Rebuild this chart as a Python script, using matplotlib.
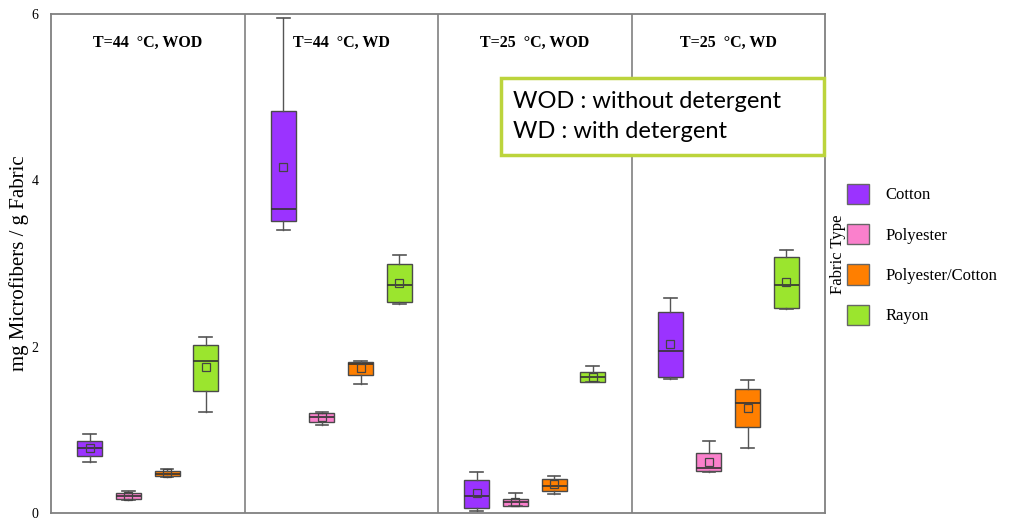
import matplotlib
matplotlib.use("Agg")
import matplotlib.pyplot as plt
from matplotlib.patches import Patch, Rectangle

# Panels (temperature / detergent condition) and fabric types
panels = ["T=44  °C, WOD", "T=44  °C, WD", "T=25  °C, WOD", "T=25  °C, WD"]
fabrics = ["Cotton", "Polyester", "Polyester/Cotton", "Rayon"]
colors = ["#9B33FF", "#FA80CC", "#FF7F00", "#9BE52E"]

# Box statistics per panel, in fabric order (mg microfibers / g fabric)
whisker_low = [
    [0.61, 0.16, 0.43, 1.22],
    [3.40, 1.06, 1.55, 2.51],
    [0.02, 0.08, 0.23, 1.57],
    [1.61, 0.49, 0.78, 2.45],
]
q1 = [
    [0.68, 0.17, 0.45, 1.47],
    [3.51, 1.09, 1.66, 2.54],
    [0.06, 0.08, 0.26, 1.58],
    [1.63, 0.51, 1.03, 2.46],
]
median = [
    [0.78, 0.21, 0.47, 1.83],
    [3.66, 1.15, 1.79, 2.74],
    [0.20, 0.13, 0.33, 1.63],
    [1.95, 0.54, 1.32, 2.74],
]
mean = [
    [0.78, 0.21, 0.48, 1.75],
    [4.16, 1.15, 1.74, 2.77],
    [0.24, 0.13, 0.35, 1.63],
    [2.03, 0.61, 1.26, 2.78],
]
q3 = [
    [0.86, 0.24, 0.50, 2.02],
    [4.83, 1.20, 1.82, 3.00],
    [0.40, 0.17, 0.41, 1.69],
    [2.42, 0.72, 1.49, 3.08],
]
whisker_high = [
    [0.95, 0.27, 0.53, 2.12],
    [5.95, 1.21, 1.83, 3.10],
    [0.49, 0.24, 0.44, 1.77],
    [2.59, 0.87, 1.60, 3.16],
]
y_ticks = [0, 2, 4, 6]

serif = ["Liberation Serif", "DejaVu Serif"]

fig = plt.figure(figsize=(10.10, 5.18), dpi=100)
ax = fig.add_axes([51 / 1010, 5 / 518, (825 - 51) / 1010, (513 - 14) / 518])

slot = 5  # x units per panel
frame_grey = "#808080"

for p in range(len(panels)):
    stats = []
    positions = []
    for f in range(len(fabrics)):
        stats.append(dict(
            whislo=whisker_low[p][f], q1=q1[p][f], med=median[p][f],
            mean=mean[p][f], q3=q3[p][f], whishi=whisker_high[p][f],
            fliers=[],
        ))
        positions.append(p * slot + f + 1)
    art = ax.bxp(
        stats, positions=positions, widths=0.65, capwidths=0.33,
        showmeans=True, patch_artist=True, manage_ticks=False,
        boxprops=dict(edgecolor="#4a4a4a", linewidth=1.0),
        medianprops=dict(color="#333333", linewidth=1.2),
        whiskerprops=dict(color="#555555", linewidth=1.0),
        capprops=dict(color="#555555", linewidth=1.2),
        meanprops=dict(marker="s", markerfacecolor="none",
                       markeredgecolor="#444444", markersize=6,
                       markeredgewidth=0.9),
    )
    for box, c in zip(art["boxes"], colors):
        box.set_facecolor(c)
    ax.text(p * slot + 2.5, 5.65, panels[p], ha="center", va="center",
            family=serif, fontweight="bold", fontsize=11.5)
    if p > 0:
        ax.axvline(p * slot, color=frame_grey, linewidth=1.2)

ax.set_xlim(0, slot * len(panels))
ax.set_ylim(0, 6)
ax.set_xticks([])
ax.set_yticks(y_ticks)
ax.set_yticklabels([str(t) for t in y_ticks], family=serif, fontsize=10)
ax.tick_params(axis="y", length=0, pad=9)
for s in ax.spines.values():
    s.set_color(frame_grey)
    s.set_linewidth(1.3)

ax.set_ylabel("mg Microfibers / g Fabric", family=serif, fontsize=15)
ax.yaxis.set_label_coords(-32 / 774, 0.5)
ax.yaxis.label.set_va("center")

# Legend for fabric types, with a vertical title
handles = [Patch(facecolor=c, edgecolor="#666666", linewidth=1.0) for c in colors]
fig.legend(handles, fabrics, loc="upper left",
           bbox_to_anchor=(835 / 1010, 1 - 172 / 518), frameon=False,
           prop=dict(family=serif, size=12), handlelength=1.35,
           handleheight=1.5, labelspacing=1.2, handletextpad=1.0,
           borderpad=0.2)
fig.text(838 / 1010, 1 - 254 / 518, "Fabric Type", rotation=90,
         ha="center", va="center", family=serif, fontsize=12)

# Abbreviation note box
fig.patches.append(Rectangle((501 / 1010, 1 - 155 / 518), 323 / 1010, 77 / 518,
                             transform=fig.transFigure, facecolor="white",
                             edgecolor="#BCD43C", linewidth=2.5, zorder=5))
fig.text(513 / 1010, 1 - 102 / 518, "WOD : without detergent",
         family=["Lato", "DejaVu Sans"], fontsize=17, va="center",
         ha="left", zorder=6)
fig.text(513 / 1010, 1 - 132 / 518, "WD : with detergent",
         family=["Lato", "DejaVu Sans"], fontsize=17, va="center",
         ha="left", zorder=6)

fig.savefig("out.png", dpi=100)
